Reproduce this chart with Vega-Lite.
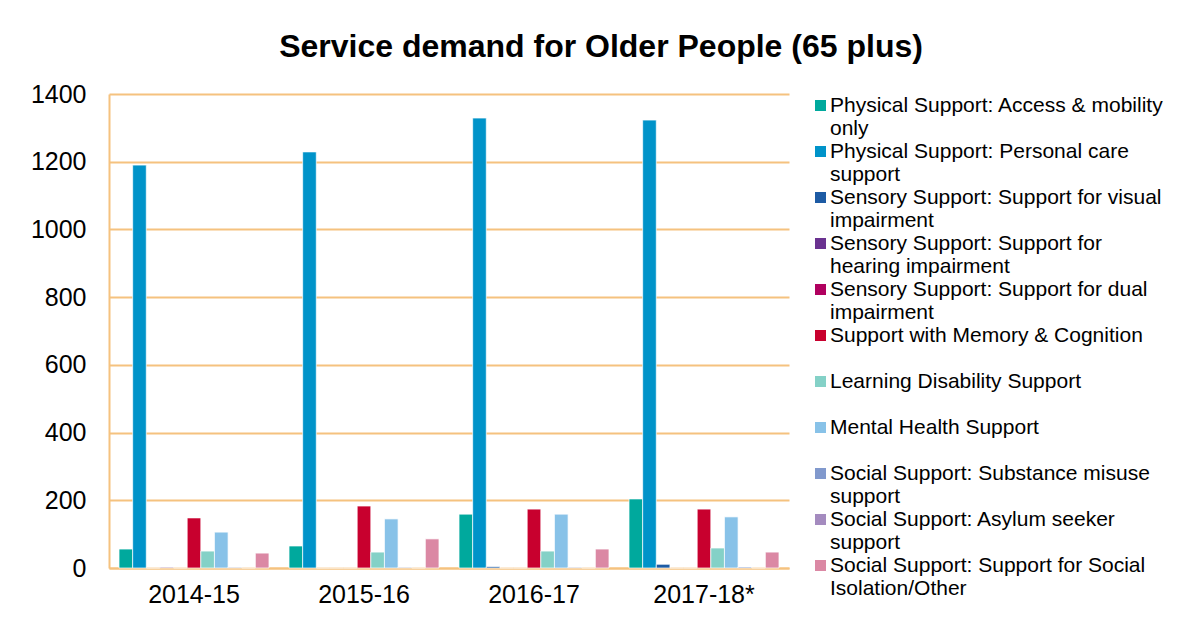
{
  "$schema": "https://vega.github.io/schema/vega-lite/v6.json",
  "width": 680,
  "height": 474,
  "autosize": {"type": "none"},
  "padding": {"left": 109, "top": 94, "right": 400, "bottom": 61},
  "background": "white",
  "title": {
    "text": "Service demand for Older People (65 plus)",
    "font": "Liberation Sans",
    "fontSize": 32,
    "fontWeight": "bold",
    "color": "black",
    "anchor": "middle",
    "frame": "group",
    "dx": 152,
    "baseline": "middle",
    "offset": 3
  },
  "data": {
    "values": [
      {"year": "2014-15", "cat": "Physical Support: Access & mobility only", "value": 56},
      {"year": "2014-15", "cat": "Physical Support: Personal care support", "value": 1190},
      {"year": "2014-15", "cat": "Sensory Support: Support for visual impairment", "value": 0},
      {"year": "2014-15", "cat": "Sensory Support: Support for hearing impairment", "value": 2},
      {"year": "2014-15", "cat": "Sensory Support: Support for dual impairment", "value": 0},
      {"year": "2014-15", "cat": "Support with Memory & Cognition", "value": 148},
      {"year": "2014-15", "cat": "Learning Disability Support", "value": 50},
      {"year": "2014-15", "cat": "Mental Health Support", "value": 106},
      {"year": "2014-15", "cat": "Social Support: Substance misuse support", "value": 2},
      {"year": "2014-15", "cat": "Social Support: Asylum seeker support", "value": 0},
      {"year": "2014-15", "cat": "Social Support: Support for Social Isolation/Other", "value": 44},
      {"year": "2015-16", "cat": "Physical Support: Access & mobility only", "value": 65},
      {"year": "2015-16", "cat": "Physical Support: Personal care support", "value": 1229},
      {"year": "2015-16", "cat": "Sensory Support: Support for visual impairment", "value": 0},
      {"year": "2015-16", "cat": "Sensory Support: Support for hearing impairment", "value": 0},
      {"year": "2015-16", "cat": "Sensory Support: Support for dual impairment", "value": 0},
      {"year": "2015-16", "cat": "Support with Memory & Cognition", "value": 183},
      {"year": "2015-16", "cat": "Learning Disability Support", "value": 47},
      {"year": "2015-16", "cat": "Mental Health Support", "value": 145},
      {"year": "2015-16", "cat": "Social Support: Substance misuse support", "value": 2},
      {"year": "2015-16", "cat": "Social Support: Asylum seeker support", "value": 0},
      {"year": "2015-16", "cat": "Social Support: Support for Social Isolation/Other", "value": 86},
      {"year": "2016-17", "cat": "Physical Support: Access & mobility only", "value": 159},
      {"year": "2016-17", "cat": "Physical Support: Personal care support", "value": 1329},
      {"year": "2016-17", "cat": "Sensory Support: Support for visual impairment", "value": 4},
      {"year": "2016-17", "cat": "Sensory Support: Support for hearing impairment", "value": 0},
      {"year": "2016-17", "cat": "Sensory Support: Support for dual impairment", "value": 0},
      {"year": "2016-17", "cat": "Support with Memory & Cognition", "value": 174},
      {"year": "2016-17", "cat": "Learning Disability Support", "value": 50},
      {"year": "2016-17", "cat": "Mental Health Support", "value": 159},
      {"year": "2016-17", "cat": "Social Support: Substance misuse support", "value": 2},
      {"year": "2016-17", "cat": "Social Support: Asylum seeker support", "value": 0},
      {"year": "2016-17", "cat": "Social Support: Support for Social Isolation/Other", "value": 56},
      {"year": "2017-18*", "cat": "Physical Support: Access & mobility only", "value": 204},
      {"year": "2017-18*", "cat": "Physical Support: Personal care support", "value": 1323},
      {"year": "2017-18*", "cat": "Sensory Support: Support for visual impairment", "value": 11},
      {"year": "2017-18*", "cat": "Sensory Support: Support for hearing impairment", "value": 0},
      {"year": "2017-18*", "cat": "Sensory Support: Support for dual impairment", "value": 0},
      {"year": "2017-18*", "cat": "Support with Memory & Cognition", "value": 174},
      {"year": "2017-18*", "cat": "Learning Disability Support", "value": 59},
      {"year": "2017-18*", "cat": "Mental Health Support", "value": 151},
      {"year": "2017-18*", "cat": "Social Support: Substance misuse support", "value": 3},
      {"year": "2017-18*", "cat": "Social Support: Asylum seeker support", "value": 0},
      {"year": "2017-18*", "cat": "Social Support: Support for Social Isolation/Other", "value": 47}
    ]
  },
  "mark": {"type": "bar", "stroke": "white", "strokeWidth": 1, "strokeOpacity": 0.7},
  "encoding": {
    "x": {
      "field": "year",
      "type": "nominal",
      "sort": null,
      "scale": {"paddingInner": 0.118, "paddingOuter": 0.059},
      "axis": {
        "title": null,
        "labelAngle": 0,
        "labelFont": "Liberation Sans",
        "labelFontSize": 25,
        "labelColor": "black",
        "labelPadding": 14,
        "ticks": false,
        "domainColor": "#F5C27F",
        "domainWidth": 2,
        "grid": false
      }
    },
    "xOffset": {
      "field": "cat",
      "type": "nominal",
      "sort": null,
      "scale": {"paddingInner": 0, "paddingOuter": 0}
    },
    "y": {
      "field": "value",
      "type": "quantitative",
      "scale": {"domain": [0, 1400], "nice": false},
      "axis": {
        "title": null,
        "values": [0, 200, 400, 600, 800, 1000, 1200, 1400],
        "format": "d",
        "labelFont": "Liberation Sans",
        "labelFontSize": 25,
        "labelColor": "black",
        "labelPadding": 23,
        "ticks": false,
        "domainColor": "#F5C27F",
        "domainWidth": 2,
        "gridColor": "#F5C27F",
        "gridWidth": 2
      }
    },
    "color": {
      "field": "cat",
      "type": "nominal",
      "sort": null,
      "scale": {
        "domain": [
          "Physical Support: Access & mobility only",
          "Physical Support: Personal care support",
          "Sensory Support: Support for visual impairment",
          "Sensory Support: Support for hearing impairment",
          "Sensory Support: Support for dual impairment",
          "Support with Memory & Cognition",
          "Learning Disability Support",
          "Mental Health Support",
          "Social Support: Substance misuse support",
          "Social Support: Asylum seeker support",
          "Social Support: Support for Social Isolation/Other"
        ],
        "range": ["#00A99D", "#0093C9", "#1D5BA4", "#6A3290", "#B0005F", "#C8002E", "#84D1C7", "#88C2E8", "#8199CD", "#A48BBF", "#DB88A4"]
      },
      "legend": {
        "title": null,
        "orient": "none",
        "legendX": 701,
        "legendY": 1,
        "padding": 0,
        "symbolType": "square",
        "symbolSize": 121,
        "symbolStrokeWidth": 0,
        "labelFont": "Liberation Sans",
        "labelFontSize": 21,
        "labelColor": "black",
        "labelLineHeight": 24,
        "labelLimit": 400,
        "labelOffset": -1,
        "rowPadding": 1,
        "labelExpr": "({'Physical Support: Access & mobility only': ['Physical Support: Access & mobility', 'only'], 'Physical Support: Personal care support': ['Physical Support: Personal care', 'support'], 'Sensory Support: Support for visual impairment': ['Sensory Support: Support for visual', 'impairment'], 'Sensory Support: Support for hearing impairment': ['Sensory Support: Support for', 'hearing impairment'], 'Sensory Support: Support for dual impairment': ['Sensory Support: Support for dual', 'impairment'], 'Support with Memory & Cognition': ['Support with Memory & Cognition', ''], 'Learning Disability Support': ['Learning Disability Support', ''], 'Mental Health Support': ['Mental Health Support', ''], 'Social Support: Substance misuse support': ['Social Support: Substance misuse', 'support'], 'Social Support: Asylum seeker support': ['Social Support: Asylum seeker', 'support'], 'Social Support: Support for Social Isolation/Other': ['Social Support: Support for Social', 'Isolation/Other']})[datum.label]",
        "encode": {
          "labels": {"update": {"dy": {"value": 12}}}
        }
      }
    }
  },
  "config": {
    "view": {"stroke": null},
    "font": "Liberation Sans"
  }
}
